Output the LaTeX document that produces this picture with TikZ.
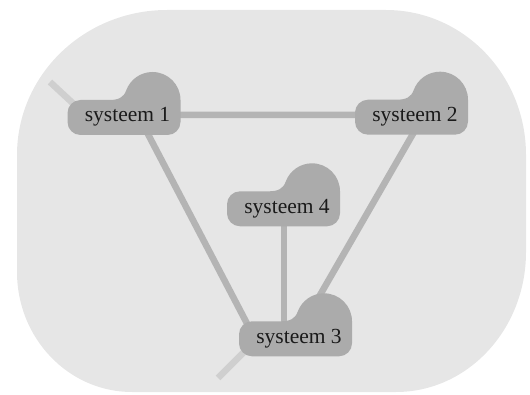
\documentclass[tikz,border=0pt]{standalone}
\usepackage{fontspec}
\setmainfont{Liberation Serif}
\usetikzlibrary{calc,backgrounds}
\definecolor{bgc}{HTML}{E6E6E6}
\definecolor{blobc}{HTML}{ABABAB}
\definecolor{edgec}{HTML}{B4B4B4}
\definecolor{stubc}{HTML}{CFCFCF}
\definecolor{txtc}{HTML}{1A1A1A}
\tikzset{
  systext/.style={text=txtc, font=\fontsize{21.5pt}{26pt}\selectfont, inner sep=0pt},
  blobfill/.style={fill=blobc},
  edgeline/.style={draw=edgec, line width=6.5pt},
  stubline/.style={draw=stubc, line width=6.5pt},
  region/.style={fill=bgc}
}
\newcommand\sysblob[3]{%
  \path[blobfill, shift={#2}] (-47pt,-13pt) -- (40pt,-13pt)
    arc[start angle=-90,end angle=0,radius=13pt] -- (53pt,22pt)
    arc[start angle=0,end angle=160,radius=28pt]
    .. controls (-3.8pt,24.6pt) and (-9pt,22pt) .. (-18pt,22pt) -- (-47pt,22pt)
    arc[start angle=90,end angle=180,radius=13pt] -- (-60pt,0pt)
    arc[start angle=180,end angle=270,radius=13pt] -- cycle;
  \node[systext, anchor=base] (#1) at #2 {#3};
}
\begin{document}
\begin{tikzpicture}[x=1pt,y=1pt]
\useasboundingbox (0,0) rectangle (530,394);
\sysblob{s1}{(127.5,272)}{systeem 1}
\sysblob{s2}{(415,272.3)}{systeem 2}
\sysblob{s4}{(287,180.7)}{systeem 4}
\sysblob{s3}{(299,50.7)}{systeem 3}
\coordinate (free1) at (50,312);
\coordinate (free3) at (218,16);
\begin{scope}[on background layer]
  \path[region] (17,239) arc[start angle=180,end angle=90,x radius=150pt,y radius=145pt]
    -- (386,384) arc[start angle=90,end angle=0,x radius=140pt,y radius=145pt]
    -- (526,142) arc[start angle=0,end angle=-90,x radius=130pt,y radius=140pt]
    -- (132,2) arc[start angle=270,end angle=180,x radius=115pt,y radius=120pt]
    -- cycle;
  \draw[edgeline] ([yshift=7pt]s1.base) -- ([yshift=7pt]s2.base);
  \draw[edgeline] ([shift={(10.5pt,7pt)}]s1.base) -- ([shift={(-46pt,8.3pt)}]s3.base);
  \draw[edgeline] ([shift={(9pt,7pt)}]s2.base) -- ([shift={(18pt,43pt)}]s3.base);
  \draw[edgeline] ([shift={(-3pt,5pt)}]s4.base) -- ([shift={(-15pt,10pt)}]s3.base);
  \draw[stubline] (free1) -- ([shift={(-49.5pt,14pt)}]s1.base);
  \draw[stubline] (free3) -- ([shift={(-51pt,-4.7pt)}]s3.base);
\end{scope}
\end{tikzpicture}
\end{document}
